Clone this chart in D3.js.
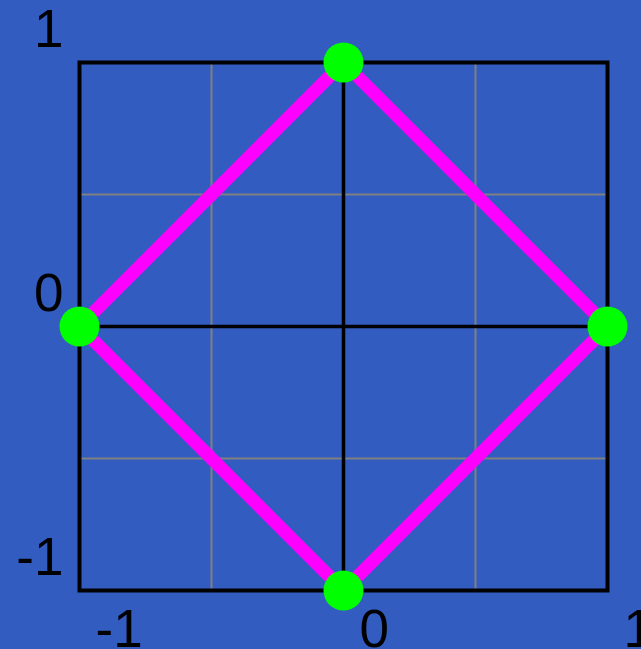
<!DOCTYPE html>
<html>
<head>
<meta charset="utf-8">
<script src="https://cdn.jsdelivr.net/npm/d3@7"></script>
<style>
  html, body { margin: 0; padding: 0; background: rgb(50, 92, 192); }
  svg { display: block; }
</style>
</head>
<body>
<svg id="chart"></svg>
<script>
// diamond vertices (x, y)
const xs = [0, 1, 0, -1];
const ys = [1, 0, -1, 0];
const xticks = [-1, 0, 1];
const yticks = [1, 0, -1];
const grids = [-0.5, 0.5];

const width = 641, height = 649;
const margin = {top: 62.5, right: 33.5, bottom: 58.5, left: 79.5};

const svg = d3.select('#chart')
    .attr('width', width)
    .attr('height', height);

svg.append('rect')
    .attr('width', width).attr('height', height)
    .attr('fill', 'rgb(50, 92, 192)');

const xscale = d3.scaleLinear().domain([-1, 1]).range([margin.left, width - margin.right]);
const yscale = d3.scaleLinear().domain([-1, 1]).range([height - margin.bottom, margin.top]);

// grid
svg.append('g').selectAll('line.gx')
    .data(grids).join('line')
    .attr('x1', d => xscale(d)).attr('x2', d => xscale(d))
    .attr('y1', yscale(-1)).attr('y2', yscale(1))
    .attr('stroke', '#808080').attr('stroke-width', 2);
svg.append('g').selectAll('line.gy')
    .data(grids).join('line')
    .attr('y1', d => yscale(d)).attr('y2', d => yscale(d))
    .attr('x1', xscale(-1)).attr('x2', xscale(1))
    .attr('stroke', '#808080').attr('stroke-width', 2);

// zero axes
svg.append('line')
    .attr('x1', xscale(0)).attr('x2', xscale(0))
    .attr('y1', yscale(-1)).attr('y2', yscale(1))
    .attr('stroke', 'black').attr('stroke-width', 3.5);
svg.append('line')
    .attr('x1', xscale(-1)).attr('x2', xscale(1))
    .attr('y1', yscale(0)).attr('y2', yscale(0))
    .attr('stroke', 'black').attr('stroke-width', 3.5);

// frame
svg.append('rect')
    .attr('x', xscale(-1)).attr('y', yscale(1))
    .attr('width', xscale(1) - xscale(-1))
    .attr('height', yscale(-1) - yscale(1))
    .attr('fill', 'none')
    .attr('stroke', 'black').attr('stroke-width', 4);

// tick labels
svg.append('g').selectAll('text')
    .data(xticks).join('text')
    .attr('x', d => xscale(d) + 16)
    .attr('y', yscale(-1) + 56.5)
    .attr('text-anchor', 'start')
    .style('font-family', 'Liberation Sans, Arial, sans-serif')
    .style('font-size', '53px')
    .attr('fill', 'black')
    .text(d => d);

svg.append('g').selectAll('text')
    .data(yticks).join('text')
    .attr('x', xscale(-1) - 16)
    .attr('y', d => yscale(d) - 15.5)
    .attr('text-anchor', 'end')
    .style('font-family', 'Liberation Sans, Arial, sans-serif')
    .style('font-size', '53px')
    .attr('fill', 'black')
    .text(d => d);

// diamond
const pts = xs.map((x, i) => [x, ys[i]]);
const line = d3.line()
    .x(d => xscale(d[0]))
    .y(d => yscale(d[1]))
    .curve(d3.curveLinearClosed);

svg.append('path')
    .datum(pts)
    .attr('d', line)
    .attr('fill', 'none')
    .attr('stroke', '#ff00ff')
    .attr('stroke-width', 13);

svg.append('g').selectAll('circle')
    .data(pts).join('circle')
    .attr('cx', d => xscale(d[0]))
    .attr('cy', d => yscale(d[1]))
    .attr('r', 20)
    .attr('fill', '#00ff00');
</script>
</body>
</html>
